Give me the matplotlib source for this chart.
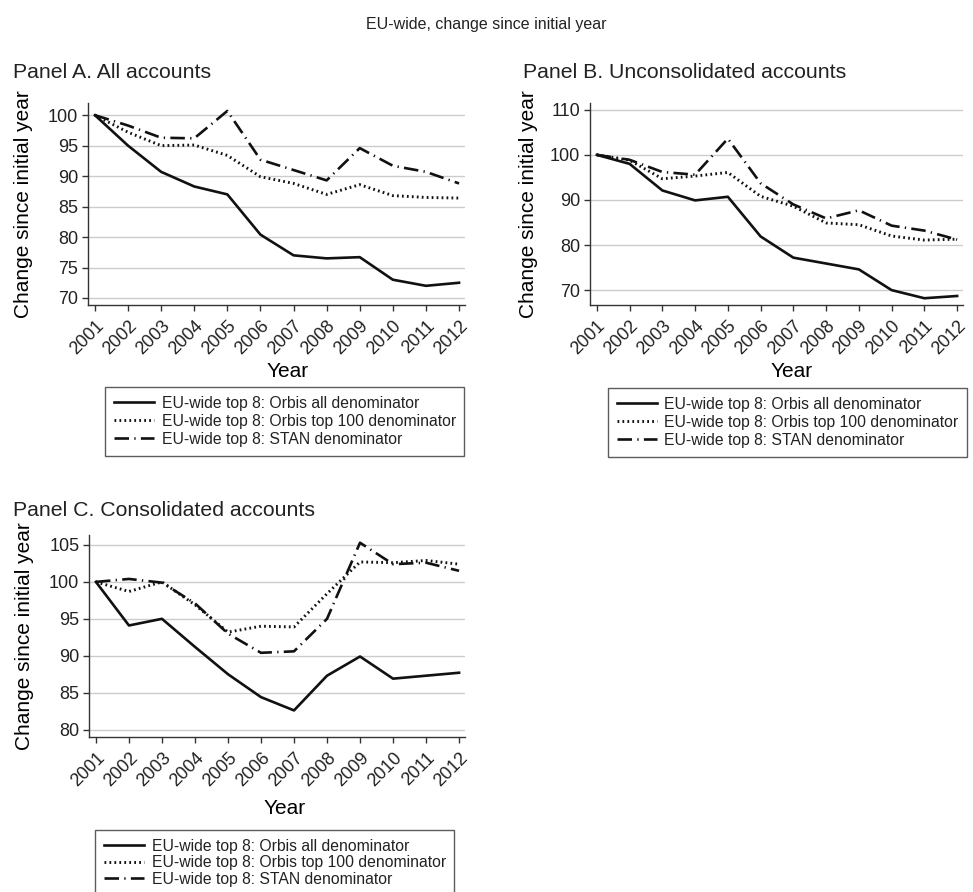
"""
EU-wide concentration, change since initial year (three panels).
"""

import matplotlib
matplotlib.use('Agg')
import matplotlib.pyplot as plt

plt.rcParams['font.family'] = ['Liberation Sans', 'DejaVu Sans']
plt.rcParams['text.color'] = '#222222'

years = list(range(2001, 2013))

# Panel A. All accounts
a_orbis_all = [100, 95.0, 90.7, 88.3, 87.0, 80.4, 77.0, 76.5, 76.7, 73.0, 72.0, 72.5]
a_orbis_top100 = [100, 97.2, 95.0, 95.1, 93.4, 89.9, 88.8, 87.0, 88.6, 86.8, 86.5, 86.4]
a_stan = [100, 98.3, 96.3, 96.2, 100.7, 92.7, 91.0, 89.3, 94.6, 91.7, 90.7, 88.8]

# Panel B. Unconsolidated accounts
b_orbis_all = [100, 98.0, 92.1, 89.9, 90.7, 81.9, 77.2, 75.9, 74.6, 70.0, 68.2, 68.7]
b_orbis_top100 = [100, 98.8, 94.7, 95.3, 96.1, 90.8, 88.6, 84.9, 84.5, 82.0, 81.1, 81.3]
b_stan = [100, 98.9, 96.2, 95.6, 103.6, 93.7, 89.0, 85.9, 87.7, 84.3, 83.2, 81.2]

# Panel C. Consolidated accounts
c_orbis_all = [100, 94.1, 95.0, 91.2, 87.5, 84.4, 82.6, 87.3, 89.9, 86.9, 87.3, 87.7]
c_orbis_top100 = [100, 98.7, 100.0, 96.9, 93.2, 94.0, 93.9, 98.4, 102.7, 102.6, 102.9, 102.4]
c_stan = [100, 100.4, 99.9, 97.1, 93.0, 90.4, 90.6, 95.0, 105.3, 102.4, 102.6, 101.5]

series_labels = [
    "EU-wide top 8: Orbis all denominator",
    "EU-wide top 8: Orbis top 100 denominator",
    "EU-wide top 8: STAN denominator",
]

panel_titles = ["Panel A. All accounts",
                "Panel B. Unconsolidated accounts",
                "Panel C. Consolidated accounts"]

W, H = 973, 892
styles = [
    dict(linestyle='-', linewidth=1.9),
    dict(linestyle=(0, (0.6, 1.1)), linewidth=2.1),
    dict(linestyle=(0, (5.5, 2.0, 0.5, 2.0)), linewidth=1.9),
]


def px(x0, y0, x1, y1):
    """Pixel box (top-left origin) -> figure fraction rect."""
    return [x0 / W, 1 - y1 / H, (x1 - x0) / W, (y1 - y0) / H]


def draw_panel(fig, rect, data, ylim, yticks, xlabel_pos, ylabel_x, legend_xy,
               spacing=0.2):
    ax = fig.add_axes(rect)
    for values, label, st in zip(data, series_labels, styles):
        ax.plot(years, values, color='#111111', label=label, **st)
    ax.set_xlim(2000.79, 2012.18)
    ax.set_ylim(*ylim)
    ax.set_yticks(yticks)
    ax.set_xticks(years)
    ax.set_xticklabels([str(y) for y in years], rotation=45, ha='right',
                       rotation_mode='anchor')
    ax.tick_params(axis='both', labelsize=13, length=4, width=1,
                   color='#333333', labelcolor='#222222', pad=3)
    ax.tick_params(axis='x', pad=5)
    ax.grid(axis='y', color='#cccccc', linewidth=1)
    ax.set_axisbelow(True)
    for side in ['top', 'right']:
        ax.spines[side].set_visible(False)
    for side in ['left', 'bottom']:
        ax.spines[side].set_color('#333333')
        ax.spines[side].set_linewidth(1)
    ax.set_xlabel("Year", fontsize=15)
    ax.xaxis.set_label_coords(*xlabel_pos)
    ax.set_ylabel("Change since initial year", fontsize=15)
    ax.yaxis.set_label_coords(ylabel_x, 0.5)
    leg = ax.legend(loc='upper left', bbox_to_anchor=legend_xy,
                    bbox_transform=fig.transFigure, borderaxespad=0,
                    fontsize=11.3, frameon=True, fancybox=False,
                    edgecolor='#333333', handlelength=2.6,
                    handletextpad=0.45, labelspacing=spacing, borderpad=0.55)
    leg.get_frame().set_linewidth(1)
    return ax


fig = plt.figure(figsize=(W / 100, H / 100), dpi=100)

fig.text(0.5, 1 - 24 / H, "EU-wide, change since initial year",
         ha='center', va='center', fontsize=11.5)

draw_panel(fig, px(88, 103, 465, 305),
           [a_orbis_all, a_orbis_top100, a_stan],
           (68.85, 102.0), [70, 75, 80, 85, 90, 95, 100],
           (0.53, -0.28), -0.145, (105 / W, 1 - 387 / H))
fig.text(13 / W, 1 - 72 / H, panel_titles[0], ha='left', va='center', fontsize=15.3)

draw_panel(fig, px(590, 103, 963, 305),
           [b_orbis_all, b_orbis_top100, b_stan],
           (66.7, 111.5), [70, 80, 90, 100, 110],
           (0.54, -0.28), -0.14, (608 / W, 1 - 388 / H))
fig.text(523 / W, 1 - 72 / H, panel_titles[1], ha='left', va='center', fontsize=15.3)

draw_panel(fig, px(89, 535, 465, 737),
           [c_orbis_all, c_orbis_top100, c_stan],
           (79.0, 106.35), [80, 85, 90, 95, 100, 105],
           (0.52, -0.305), -0.145, (95 / W, 1 - 830 / H), spacing=0.1)
fig.text(13 / W, 1 - 510 / H, panel_titles[2], ha='left', va='center', fontsize=15.3)

fig.savefig('out.png', dpi=100, facecolor='white')
plt.close(fig)
